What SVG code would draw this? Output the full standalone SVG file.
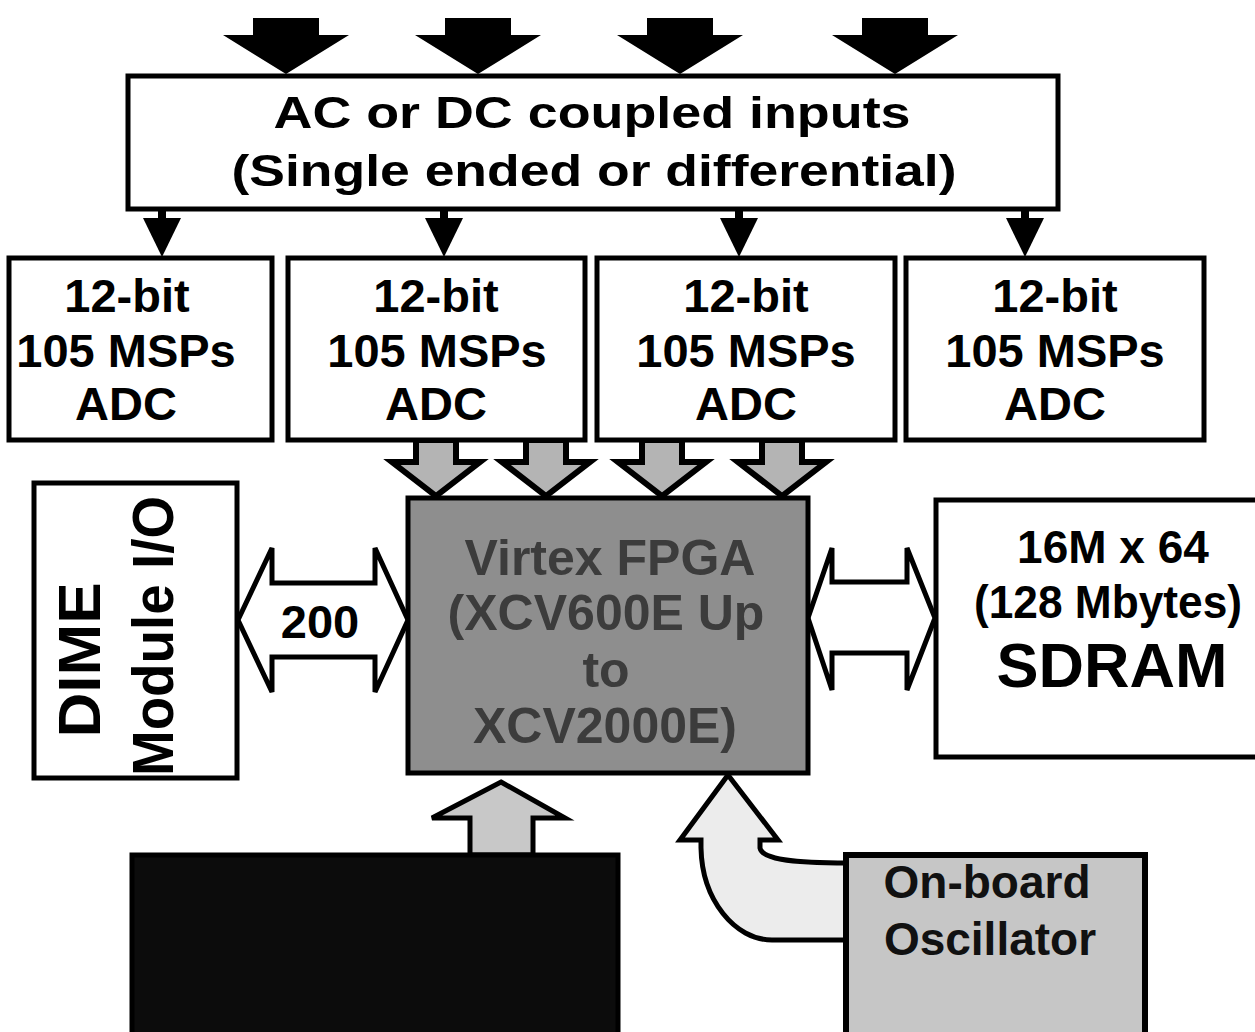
<svg xmlns="http://www.w3.org/2000/svg" width="1255" height="1032" viewBox="0 0 1255 1032">
<style>
text{font-family:"Liberation Sans",Arial,sans-serif;font-weight:bold;text-anchor:middle;fill:#000}
.box{fill:#fff;stroke:#000;stroke-width:5}
.blk{fill:#000}
.dn{fill:#b4b4b4;stroke:#000;stroke-width:6;stroke-linejoin:miter}
.dbl{fill:#fff;stroke:#000;stroke-width:5;stroke-linejoin:miter}
.t46{font-size:47px}
.fp{font-size:50px;fill:#3c3c3c}
</style>
<rect width="1255" height="1032" fill="#fff"/>
<g id="connectors">
  <g id="input-arrows" class="blk">
    <polygon points="253,18 319,18 319,35 349,35 286,74 223,35 253,35"/>
    <polygon points="445,18 511,18 511,35 541,35 478,74 415,35 445,35"/>
    <polygon points="647,18 713,18 713,35 743,35 680,74 617,35 647,35"/>
    <polygon points="862,18 928,18 928,35 958,35 895,74 832,35 862,35"/>
  </g>
  <g id="to-adc" class="blk">
    <rect x="158" y="209" width="8" height="11"/><polygon points="143,218 181,218 162,257"/>
    <rect x="440" y="209" width="8" height="11"/><polygon points="425,218 463,218 444,257"/>
    <rect x="735" y="209" width="8" height="11"/><polygon points="720,218 758,218 739,257"/>
    <rect x="1021" y="209" width="8" height="11"/><polygon points="1006,218 1044,218 1025,257"/>
  </g>
  <g id="adc-to-fpga">
    <polygon class="dn" points="416,440 456,440 456,462 480,462 436,496 392,462 416,462"/>
    <polygon class="dn" points="526,440 566,440 566,462 590,462 546,496 502,462 526,462"/>
    <polygon class="dn" points="642,440 682,440 682,462 706,462 662,496 618,462 642,462"/>
    <polygon class="dn" points="762,440 802,440 802,462 826,462 782,496 738,462 762,462"/>
  </g>
  <g id="dime-bus">
    <polygon class="dbl" points="238,620 272,548 272,583 375,583 375,548 408,620 375,692 375,657 272,657 272,692"/>
    <text class="t46" x="320" y="638">200</text>
  </g>
  <g id="sdram-bus">
    <polygon class="dbl" points="808,618 832,548 832,582 907,582 907,548 935,618 907,690 907,653 832,653 832,690"/>
  </g>
  <polygon id="bottom-up" points="501,782 565,818 533,818 533,855 470,855 470,818 432,818" fill="#c8c8c8" stroke="#000" stroke-width="5"/>
  <path id="osc-arrow" d="M728,775 L778,840 L760,840 L760,848 C762,858 785,863 848,863 L848,940 L772,940 C735,940 702,900 701,848 L701,840 L680,840 Z" fill="#ececec" stroke="#000" stroke-width="5"/>
</g>
<g id="inputs">
  <rect class="box" x="128" y="76" width="930" height="133"/>
  <text x="592" y="128" font-size="44" textLength="637" lengthAdjust="spacingAndGlyphs">AC or DC coupled inputs</text>
  <text x="594" y="186" font-size="45" textLength="725" lengthAdjust="spacingAndGlyphs">(Single ended or differential)</text>
</g>
<g id="adc1">
  <rect class="box" x="9" y="258" width="263" height="182"/>
  <text class="t46" x="127" y="312">12-bit</text>
  <text class="t46" x="126" y="367">105 MSPs</text>
  <text class="t46" x="126" y="420">ADC</text>
</g>
<g id="adc2">
  <rect class="box" x="288" y="258" width="297" height="182"/>
  <text class="t46" x="436" y="312">12-bit</text>
  <text class="t46" x="437" y="367">105 MSPs</text>
  <text class="t46" x="436" y="420">ADC</text>
</g>
<g id="adc3">
  <rect class="box" x="597" y="258" width="298" height="182"/>
  <text class="t46" x="746" y="312">12-bit</text>
  <text class="t46" x="746" y="367">105 MSPs</text>
  <text class="t46" x="746" y="420">ADC</text>
</g>
<g id="adc4">
  <rect class="box" x="906" y="258" width="298" height="182"/>
  <text class="t46" x="1055" y="312">12-bit</text>
  <text class="t46" x="1055" y="367">105 MSPs</text>
  <text class="t46" x="1055" y="420">ADC</text>
</g>
<g id="dime">
  <rect class="box" x="34" y="483" width="203" height="295"/>
  <text transform="translate(100,660) rotate(-90)" font-size="60" textLength="155" lengthAdjust="spacingAndGlyphs">DIME</text>
  <text transform="translate(173,636) rotate(-90)" font-size="58" textLength="280" lengthAdjust="spacingAndGlyphs">Module I/O</text>
</g>
<g id="fpga">
  <rect x="408" y="498" width="400" height="275" fill="#8e8e8e" stroke="#000" stroke-width="5"/>
  <text class="fp" x="610" y="575">Virtex FPGA</text>
  <text class="fp" x="606" y="630">(XCV600E Up</text>
  <text class="fp" x="606" y="687">to</text>
  <text class="fp" x="605" y="743">XCV2000E)</text>
</g>
<g id="sdram">
  <rect class="box" x="936" y="500" width="330" height="257"/>
  <text x="1113" y="563" font-size="46">16M x 64</text>
  <text x="1108" y="618" font-size="46" textLength="268" lengthAdjust="spacingAndGlyphs">(128 Mbytes)</text>
  <text x="1112" y="687" font-size="63">SDRAM</text>
</g>
<g id="bottom-block">
  <rect x="132" y="855" width="486" height="190" fill="#0c0c0c" stroke="#000" stroke-width="5"/>
</g>
<g id="oscillator">
  <rect x="846" y="855" width="299" height="190" fill="#c6c6c6" stroke="#000" stroke-width="6"/>
  <text x="987" y="898" font-size="46" style="fill:#111">On-board</text>
  <text x="990" y="955" font-size="46" style="fill:#111">Oscillator</text>
</g>
</svg>
